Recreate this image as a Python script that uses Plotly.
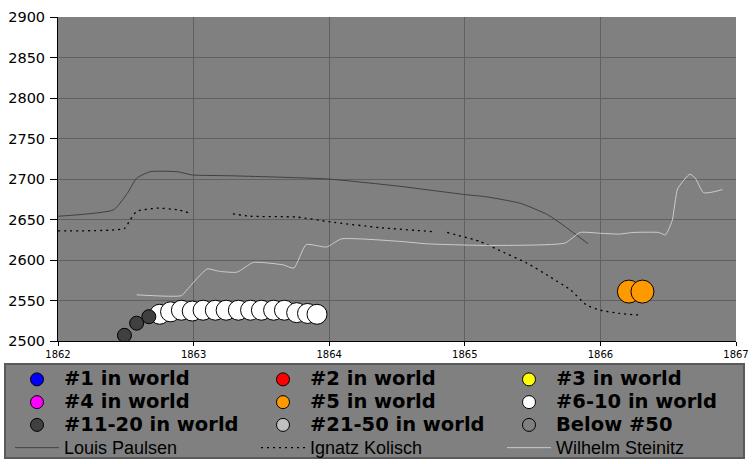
import plotly.graph_objects as go

# ---- data ----
paulsen_x = [1862.00, 1862.41, 1862.51, 1862.58, 1862.68, 1862.88, 1862.99, 1863.27, 1863.99,
             1864.52, 1864.99, 1865.16, 1865.41, 1865.61, 1865.75, 1865.91]
paulsen_y = [2654, 2662, 2682, 2701, 2709, 2709, 2705, 2704, 2700,
             2691, 2681, 2678, 2670, 2656, 2640, 2620]

kolisch_x = [1862.00, 1862.49, 1862.53, 1862.58, 1862.73, 1862.88, 1862.97, None,
             1863.29, 1863.42, 1863.76, 1864.01, 1864.37, 1864.77, None,
             1864.87, 1865.11, 1865.24, 1865.46, 1865.63, 1865.78, 1865.90, 1866.00, 1866.14, 1866.29]
kolisch_y = [2636, 2639, 2649, 2660, 2664, 2662, 2658, None,
             2657, 2654, 2653, 2647, 2640, 2635, None,
             2634, 2623, 2613, 2596, 2579, 2563, 2544, 2538, 2534, 2532]

steinitz_x = [1862.58, 1862.91, 1862.95, 1863.10, 1863.19, 1863.32, 1863.44, 1863.66, 1863.74,
              1863.83, 1863.98, 1864.09, 1864.52, 1864.72, 1865.16, 1865.74, 1865.85, 1866.00,
              1866.14, 1866.24, 1866.43, 1866.48, 1866.53, 1866.57, 1866.66, 1866.70, 1866.76,
              1866.83, 1866.90]
steinitz_y = [2557, 2556, 2563, 2589, 2586, 2585, 2597, 2594, 2590,
              2619, 2616, 2626, 2623, 2620, 2618, 2621, 2634, 2633,
              2632, 2634, 2634, 2631, 2649, 2688, 2706, 2701, 2683,
              2684, 2687]

rank_6_10_x = [1862.75, 1862.83, 1862.91, 1862.99, 1863.07, 1863.16, 1863.24, 1863.33,
               1863.42, 1863.50, 1863.59, 1863.67, 1863.76, 1863.84, 1863.91]
rank_6_10_y = [2533, 2536, 2538, 2537, 2538, 2538, 2538, 2538,
               2538, 2538, 2538, 2538, 2535, 2534, 2533]

rank_11_20_x = [1862.49, 1862.58, 1862.67]
rank_11_20_y = [2507, 2522, 2530]

rank_5_x = [1866.21, 1866.31]
rank_5_y = [2561, 2561]

categories = ["#1 in world", "#2 in world", "#3 in world", "#4 in world", "#5 in world",
              "#6-10 in world", "#11-20 in world", "#21-50 in world", "Below #50"]
cat_colors = ["#0000ff", "#ff0000", "#ffff00", "#ff00ff", "#ff9900",
              "#ffffff", "#404040", "#c0c0c0", "#808080"]

x_ticks = [1862, 1863, 1864, 1865, 1866, 1867]
y_ticks = [2500, 2550, 2600, 2650, 2700, 2750, 2800, 2850, 2900]

MK = '<span style="font-family:DejaVu Sans;font-size:19.5px;font-weight:bold">{}</span>'
LN = '<span style="font-family:Liberation Sans;font-size:18px;font-weight:normal">{}</span>'

W, H = 756, 464
ML, MR, MT, MB = 58, 20, 17, 123
PW, PH = W - ML - MR, H - MT - MB

def px_to_paper_x(px):
    return (px - ML) / PW

def px_to_paper_y(py):
    return (H - MB - py) / PH

fig = go.Figure()

# legend-only entries for the rank categories
for name, col in zip(categories, cat_colors):
    fig.add_trace(go.Scatter(
        x=[None], y=[None], mode="markers", name=MK.format(name),
        marker=dict(color=col, size=13, line=dict(color="#000000", width=1)),
        showlegend=True,
    ))

# data markers (drawn in this order: white, then orange, then dark on top)
fig.add_trace(go.Scatter(x=rank_6_10_x, y=rank_6_10_y, mode="markers", showlegend=False,
                         name="#6-10 in world",
                         marker=dict(color="#ffffff", size=20, line=dict(color="#000000", width=1))))
fig.add_trace(go.Scatter(x=rank_5_x, y=rank_5_y, mode="markers", showlegend=False,
                         name="#5 in world",
                         marker=dict(color="#ff9900", size=23, line=dict(color="#000000", width=1))))
fig.add_trace(go.Scatter(x=rank_11_20_x, y=rank_11_20_y, mode="markers", showlegend=False,
                         name="#11-20 in world",
                         marker=dict(color="#404040", size=14, line=dict(color="#000000", width=1))))

fig.add_trace(go.Scatter(x=paulsen_x, y=paulsen_y, mode="lines", name=LN.format("Louis Paulsen"),
                         line=dict(color="#404040", width=1, shape="spline", smoothing=0.5)))
fig.add_trace(go.Scatter(x=kolisch_x, y=kolisch_y, mode="lines", name=LN.format("Ignatz Kolisch"),
                         line=dict(color="#000000", width=1.3, dash="2px,4px", shape="spline", smoothing=0.5)))
fig.add_trace(go.Scatter(x=steinitz_x, y=steinitz_y, mode="lines", name=LN.format("Wilhelm Steinitz"),
                         line=dict(color="#cccccc", width=1, shape="spline", smoothing=0.5)))

# legend box background
fig.add_shape(type="rect", xref="paper", yref="paper",
              x0=px_to_paper_x(5), x1=px_to_paper_x(744),
              y0=px_to_paper_y(458), y1=px_to_paper_y(364),
              fillcolor="#808080", line=dict(color="#5a5a5a", width=2), layer="below")

fig.update_layout(
    width=W, height=H,
    margin=dict(l=ML, r=MR, t=MT, b=MB, autoexpand=False),
    paper_bgcolor="#ffffff",
    plot_bgcolor="#808080",
    font=dict(family="DejaVu Sans", color="#000000"),
    showlegend=True,
    legend=dict(
        orientation="h",
        x=px_to_paper_x(10), y=px_to_paper_y(363), xanchor="left", yanchor="top",
        bgcolor="rgba(0,0,0,0)", borderwidth=0,
        font=dict(size=15.2, family="DejaVu Sans", color="#000000"),
        entrywidth=187, entrywidthmode="pixels", itemwidth=44,
        itemsizing="trace", tracegroupgap=0,
    ),
    xaxis=dict(
        range=[1862, 1867], tickvals=x_ticks, ticktext=[str(v) for v in x_ticks],
        showgrid=True, gridcolor="#606060", gridwidth=1,
        showline=True, linecolor="#000000", linewidth=1,
        ticks="outside", ticklen=4, tickcolor="#000000",
        tickfont=dict(size=10, family="DejaVu Sans"), zeroline=False, automargin=False,
    ),
    yaxis=dict(
        range=[2500, 2900], tickvals=y_ticks,
        showgrid=True, gridcolor="#606060", gridwidth=1,
        showline=True, linecolor="#000000", linewidth=1,
        ticks="outside", ticklen=7, tickcolor="#000000", ticklabelstandoff=2,
        tickfont=dict(size=14.5, family="DejaVu Sans"), zeroline=False, automargin=False,
    ),
)

fig.write_html("out.html", config={"displayModeBar": False},
               post_script="document.body.style.margin='0px';")
